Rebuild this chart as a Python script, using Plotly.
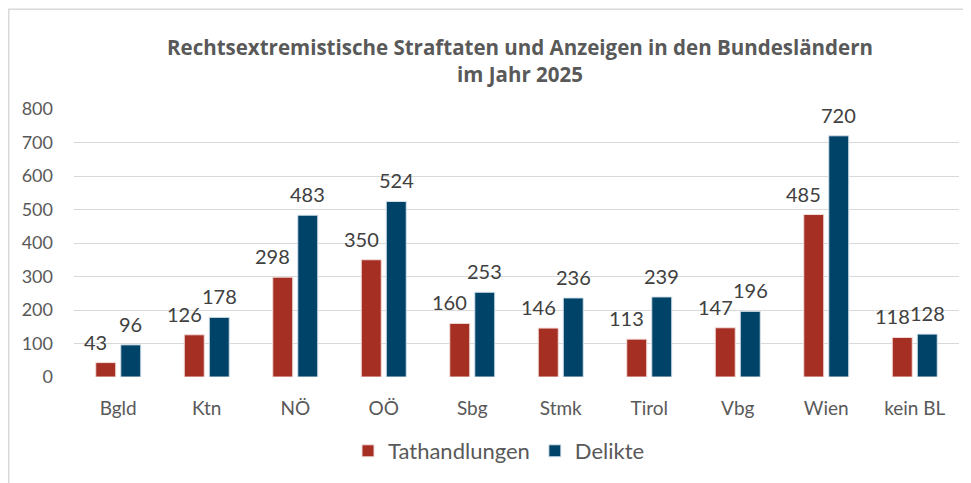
import plotly.graph_objects as go

categories = ["Bgld", "Ktn", "NÖ", "OÖ", "Sbg", "Stmk", "Tirol", "Vbg", "Wien", "kein BL"]
tathandlungen = [43, 126, 298, 350, 160, 146, 113, 147, 485, 118]
delikte = [96, 178, 483, 524, 253, 236, 239, 196, 720, 128]
y_ticks = [0, 100, 200, 300, 400, 500, 600, 700, 800]

RED = "#A62F24"
BLUE = "#004368"
GRAY_TXT = "#595959"
LABEL_TXT = "#404040"
FONT = "Lato"

fig = go.Figure()
fig.add_trace(go.Bar(x=categories, y=tathandlungen, name="Tathandlungen",
                     marker=dict(color=RED, line=dict(color="#f2dcd9", width=1))))
fig.add_trace(go.Bar(x=categories, y=delikte, name="Delikte",
                     marker=dict(color=BLUE, line=dict(color="#d6e2ea", width=1))))

annotations = []
for c, v in zip(categories, tathandlungen):
    annotations.append(dict(x=c, y=v, xref="x", yref="y", text=str(v), showarrow=False,
                            xshift=-12.5 - 10, yshift=7, yanchor="bottom",
                            font=dict(family=FONT, size=20, color=LABEL_TXT)))
for c, v in zip(categories, delikte):
    annotations.append(dict(x=c, y=v, xref="x", yref="y", text=str(v), showarrow=False,
                            xshift=12.5, yshift=7, yanchor="bottom",
                            font=dict(family=FONT, size=20, color=LABEL_TXT)))

W, H = 963, 475
L, R, T, B = 66, 12, 101, 105
pw, ph = W - L - R, H - T - B

fig.update_layout(
    width=W, height=H,
    margin=dict(l=L, r=R, t=T, b=B),
    paper_bgcolor="white", plot_bgcolor="white",
    barmode="group", bargap=0.435, bargroupgap=0.2,
    title=dict(text="Rechtsextremistische Straftaten und Anzeigen in den Bundesländern<br>im Jahr 2025",
               x=512 / W, xanchor="center", y=1 - 47 / H, yanchor="middle",
               yref="container", xref="container",
               font=dict(family="Open Sans", size=20.5, color=GRAY_TXT, weight="bold")),
    font=dict(family=FONT, color=GRAY_TXT),
    xaxis=dict(showgrid=False, showline=False, zeroline=False,
               tickfont=dict(family=FONT, size=19, color=GRAY_TXT),
               ticklabelstandoff=18),
    yaxis=dict(range=[0, 800], tickvals=y_ticks, showgrid=True, gridcolor="#d9d9d9",
               gridwidth=1.3, zeroline=False, showline=False,
               tickfont=dict(family=FONT, size=18, color=GRAY_TXT),
               ticklabelstandoff=20),
    legend=dict(orientation="h", x=(491 - L) / pw, xanchor="center",
                y=(T + ph - 443) / ph, yanchor="middle",
                font=dict(family=FONT, size=22, color=GRAY_TXT),
                itemwidth=30, traceorder="normal"),
    annotations=annotations,
    shapes=[dict(type="rect", xref="paper", yref="paper",
                 x0=(0.75 - L) / pw, x1=1.2, y0=-0.6, y1=1 + (T - 1) / ph,
                 line=dict(color="#d9d9d9", width=1.5), fillcolor="rgba(0,0,0,0)",
                 layer="below")],
)

fig.write_html("out.html")
